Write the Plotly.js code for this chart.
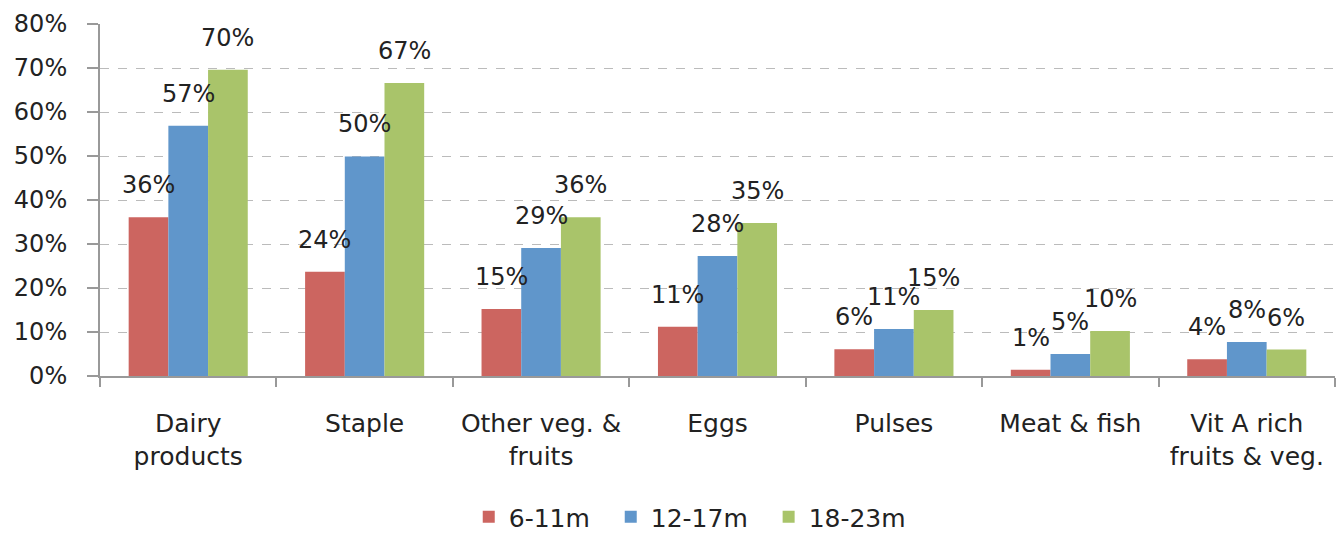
<!DOCTYPE html>
<html><head><meta charset="utf-8">
<script src="https://cdn.plot.ly/plotly-3.0.1.min.js"></script>
<style>html,body{margin:0;padding:0;background:#fff}#chart{width:1338px;height:540px}</style>
</head><body><div id="chart"></div>
<script>
const categories = ["Dairy<br>products", "Staple", "Other veg. &<br>fruits", "Eggs", "Pulses", "Meat & fish", "Vit A rich<br>fruits & veg."];
const seriesNames = ["6-11m", "12-17m", "18-23m"];
const v6_11 = [36.1, 23.7, 15.2, 11.2, 6.1, 1.4, 3.8];
const v12_17 = [56.9, 49.9, 29.1, 27.3, 10.7, 5.0, 7.7];
const v18_23 = [69.6, 66.6, 36.1, 34.8, 15.0, 10.2, 6.0];
const labels6_11 = ["36%", "24%", "15%", "11%", "6%", "1%", "4%"];
const labels12_17 = ["57%", "50%", "29%", "28%", "11%", "5%", "8%"];
const labels18_23 = ["70%", "67%", "36%", "35%", "15%", "10%", "6%"];
const yTicks = [0, 10, 20, 30, 40, 50, 60, 70, 80];

const colors = ["#CC6560", "#6096CB", "#A9C46A"];
const values = [v6_11, v12_17, v18_23];
const labels = [labels6_11, labels12_17, labels18_23];
const FONT = "DejaVu Sans";
const bargap = 0.325;
const bw = (1 - bargap) / 3;

const traces = values.map((vals, j) => ({
  type: "bar",
  name: seriesNames[j] + "\u00a0\u00a0",
  x: categories,
  y: vals,
  marker: {color: colors[j], line: {width: 0}},
  hoverinfo: "none"
}));

const annotations = [];
values.forEach((vals, j) => {
  vals.forEach((v, i) => {
    annotations.push({
      x: i + (j - 1) * bw,
      y: v,
      xref: "x", yref: "y",
      text: labels[j][i],
      showarrow: false,
      yanchor: "bottom",
      yshift: 16,
      font: {family: FONT, size: 24, color: "#222"}
    });
  });
});

const layout = {
  width: 1338, height: 540,
  margin: {l: 100, r: 3, t: 24, b: 164, autoexpand: false},
  paper_bgcolor: "#fff", plot_bgcolor: "#fff",
  barmode: "group",
  bargap: bargap, bargroupgap: 0,
  showlegend: true,
  legend: {
    orientation: "h", x: 0.484, xanchor: "center",
    yref: "container", y: 0, yanchor: "bottom",
    font: {family: FONT, size: 25, color: "#222"},
    traceorder: "normal", itemwidth: 30
  },
  xaxis: {
    type: "category",
    tickson: "boundaries",
    ticks: "outside", ticklen: 9, tickcolor: "#999", tickwidth: 2,
    showline: true, linecolor: "#999", linewidth: 2,
    showgrid: false, automargin: false,
    ticklabelstandoff: 24,
    tickfont: {family: FONT, size: 25, color: "#222"},
    fixedrange: true
  },
  yaxis: {
    range: [0, 80],
    tickvals: yTicks,
    ticktext: yTicks.map(t => t + "%"),
    ticks: "outside", ticklen: 11, tickcolor: "#999", tickwidth: 2,
    showline: true, linecolor: "#999", linewidth: 2,
    showgrid: true, gridcolor: "#BBB", griddash: "dash", gridwidth: 1,
    zeroline: false, automargin: false,
    ticklabelstandoff: 15,
    tickfont: {family: FONT, size: 24, color: "#222"},
    fixedrange: true
  },
  annotations: annotations
};

Plotly.newPlot("chart", traces, layout, {displayModeBar: false, staticPlot: true});
</script></body></html>
